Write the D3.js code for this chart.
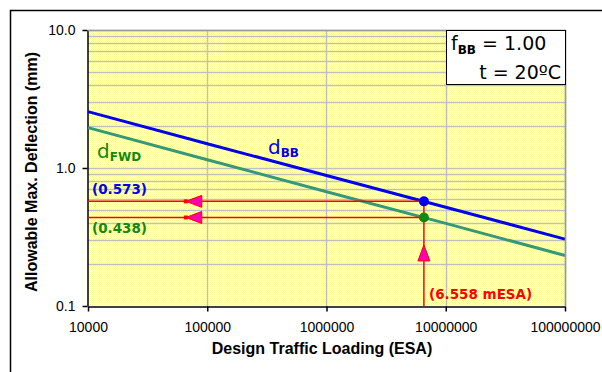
<!DOCTYPE html>
<html>
<head>
<meta charset="utf-8">
<script src="https://cdn.jsdelivr.net/npm/d3@7"></script>
<style>
  html, body { margin: 0; padding: 0; background: #fff; }
  svg { display: block; }
</style>
</head>
<body>
<svg id="chart" width="602" height="372"></svg>
<script>
// Design traffic (ESA) at decade points
const traffic = [1e4, 1e5, 1e6, 1e7, 1e8];
// Allowable max deflection (mm), Benkelman beam basis
const dBB = [2.56, 1.50, 0.883, 0.520, 0.305];
// Allowable max deflection (mm), FWD basis
const dFWD = [1.96, 1.148, 0.673, 0.397, 0.232];
// Selected design point
const designESA = 6.558e6;
const designBB = 0.573;
const designFWD = 0.438;
// Axis ticks
const xTicks = [1e4, 1e5, 1e6, 1e7, 1e8];
const xTickLabels = ["10000", "100000", "1000000", "10000000", "100000000"];
const yTicks = [0.1, 1, 10];
const yTickLabels = ["0.1", "1.0", "10.0"];

const svg = d3.select("#chart");
const m = { left: 88, right: 565, top: 30, bottom: 306 };

const x = d3.scaleLog().domain([1e4, 1e8]).range([m.left, m.right]);
const y = d3.scaleLog().domain([0.1, 10]).range([m.bottom, m.top]);

// outer frame
svg.append("path")
  .attr("d", `M10.5,372 V10.5 H602`)
  .attr("fill", "none").attr("stroke", "#000").attr("stroke-width", 1.5);

// dotted yellow fill pattern
const defs = svg.append("defs");
const pat = defs.append("pattern").attr("id", "dots")
  .attr("width", 2).attr("height", 2).attr("patternUnits", "userSpaceOnUse");
pat.append("rect").attr("width", 2).attr("height", 2).attr("fill", "#ffffff");
pat.append("rect").attr("width", 1).attr("height", 1).attr("fill", "#ffff99");
pat.append("rect").attr("x", 1).attr("y", 1).attr("width", 1).attr("height", 1).attr("fill", "#ffff99");

svg.append("rect")
  .attr("x", m.left).attr("y", m.top)
  .attr("width", m.right - m.left).attr("height", m.bottom - m.top)
  .attr("fill", "url(#dots)");

// gridlines
const minorY = [];
[0.1, 1].forEach(d => { for (let k = 2; k <= 10; k++) minorY.push(d * k); });
svg.append("g").selectAll("line").data(minorY).join("line")
  .attr("x1", m.left).attr("x2", m.right)
  .attr("y1", d => Math.round(y(d)) + 0.5).attr("y2", d => Math.round(y(d)) + 0.5)
  .attr("stroke", "#c0c0c0").attr("stroke-width", 1.5);
svg.append("g").selectAll("line").data(xTicks.slice(1)).join("line")
  .attr("x1", d => Math.round(x(d)) + 0.5).attr("x2", d => Math.round(x(d)) + 0.5)
  .attr("y1", m.top).attr("y2", m.bottom)
  .attr("stroke", "#c0c0c0").attr("stroke-width", 1.5);

// axes
const xAxis = d3.axisBottom(x).tickValues(xTicks)
  .tickFormat((d, i) => xTickLabels[i]).tickSize(5).tickSizeOuter(0).tickPadding(11);
const gx = svg.append("g").attr("transform", `translate(0,${m.bottom + 0.5})`).call(xAxis);
const yAxis = d3.axisLeft(y).tickValues(yTicks)
  .tickFormat((d, i) => yTickLabels[i]).tickSize(5).tickSizeOuter(0).tickPadding(7);
const gy = svg.append("g").attr("transform", `translate(${m.left - 0.5},0)`).call(yAxis);
[gx, gy].forEach(g => {
  g.selectAll("text").attr("font-family", "Liberation Sans, Arial, sans-serif")
    .attr("font-size", 14).attr("fill", "#000");
  g.selectAll("line, path").attr("stroke", "#000").attr("stroke-width", 1.5);
});

// deflection curves
const line = d3.line().x(d => x(d[0])).y(d => y(d[1]));
svg.append("path").datum(traffic.map((t, i) => [t, dFWD[i]]))
  .attr("d", line).attr("fill", "none").attr("stroke", "#339977").attr("stroke-width", 3);
svg.append("path").datum(traffic.map((t, i) => [t, dBB[i]]))
  .attr("d", line).attr("fill", "none").attr("stroke", "#0000ee").attr("stroke-width", 3);

// design-point guide lines
const red = "#ff0000";
const px = x(designESA);
[designBB, designFWD].forEach(v => {
  svg.append("line").attr("x1", m.left).attr("x2", px)
    .attr("y1", y(v)).attr("y2", y(v)).attr("stroke", red).attr("stroke-width", 1.5);
});
svg.append("line").attr("x1", px).attr("x2", px)
  .attr("y1", y(designBB)).attr("y2", m.bottom).attr("stroke", red).attr("stroke-width", 1.5);

// arrow heads
const magenta = "#ff00aa";
[designBB, designFWD].forEach(v => {
  const ax = x(Math.pow(10, 4.82)), ay = y(v);
  svg.append("path")
    .attr("d", `M${ax},${ay} L${ax + 16},${ay - 6} L${ax + 16},${ay + 6} Z`)
    .attr("fill", magenta).attr("stroke", red).attr("stroke-width", 1);
  svg.append("rect").attr("x", ax - 2).attr("y", ay - 2).attr("width", 4).attr("height", 4).attr("fill", red);
});
{
  const ay = y(0.277);
  svg.append("path")
    .attr("d", `M${px},${ay} L${px - 6},${ay + 16} L${px + 6},${ay + 16} Z`)
    .attr("fill", magenta).attr("stroke", red).attr("stroke-width", 1);
}

// design points
svg.append("circle").attr("cx", px).attr("cy", y(designBB)).attr("r", 5).attr("fill", "#0000ee");
svg.append("circle").attr("cx", px).attr("cy", y(designFWD)).attr("r", 5).attr("fill", "#118811");

// plot-area border (top/right)
svg.append("path")
  .attr("d", `M${m.left},${m.top + 0.5} H${m.right + 0.5} V${m.bottom}`)
  .attr("fill", "none").attr("stroke", "#999").attr("stroke-width", 1.5);

// text labels
const tf = "DejaVu Sans, Verdana, sans-serif";
const lab1 = svg.append("text").attr("x", 268).attr("y", 154).attr("font-family", tf).attr("fill", "#0000ee");
lab1.append("tspan").attr("font-size", 20).text("d");
lab1.append("tspan").attr("font-size", 12).attr("font-weight", "bold").attr("dy", 3).text("BB");

const lab2 = svg.append("text").attr("x", 97).attr("y", 158).attr("font-family", tf).attr("fill", "#118811");
lab2.append("tspan").attr("font-size", 20).text("d");
lab2.append("tspan").attr("font-size", 12).attr("font-weight", "bold").attr("dy", 3).text("FWD");

const vf = "DejaVu Sans, Verdana, sans-serif";
svg.append("text").attr("x", 92).attr("y", 194).attr("font-family", vf).attr("font-weight", "bold")
  .attr("font-size", 13.5).attr("fill", "#0000ee").text(`(${designBB.toFixed(3)})`);
svg.append("text").attr("x", 92).attr("y", 233).attr("font-family", vf).attr("font-weight", "bold")
  .attr("font-size", 13.5).attr("fill", "#118811").text(`(${designFWD.toFixed(3)})`);
svg.append("text").attr("x", 429).attr("y", 299).attr("font-family", vf).attr("font-weight", "bold")
  .attr("font-size", 13.5).attr("fill", red).text(`(${(designESA / 1e6).toFixed(3)} mESA)`);

// info box
svg.append("rect").attr("x", 446.5).attr("y", 30.5).attr("width", 119).attr("height", 54)
  .attr("fill", "#fff").attr("stroke", "#000").attr("stroke-width", 1);
const f1 = svg.append("text").attr("x", 451).attr("y", 50).attr("font-family", tf).attr("font-size", 19).attr("fill", "#000");
f1.append("tspan").text("f");
f1.append("tspan").attr("font-size", 12).attr("font-weight", "bold").attr("dy", 4).text("BB");
f1.append("tspan").attr("dy", -4).text(" = 1.00");
svg.append("text").attr("x", 561).attr("y", 79).attr("text-anchor", "end")
  .attr("font-family", tf).attr("font-size", 19).attr("fill", "#000").text("t = 20\u00BAC");

// axis titles
const af = "Liberation Sans, Arial, sans-serif";
svg.append("text").attr("x", 322).attr("y", 354).attr("text-anchor", "middle")
  .attr("font-family", af).attr("font-weight", "bold").attr("font-size", 16).text("Design Traffic Loading (ESA)");
svg.append("text").attr("transform", `translate(37,172) rotate(-90)`).attr("text-anchor", "middle")
  .attr("font-family", af).attr("font-weight", "bold").attr("font-size", 16).text("Allowable Max. Deflection (mm)");
</script>
</body>
</html>
